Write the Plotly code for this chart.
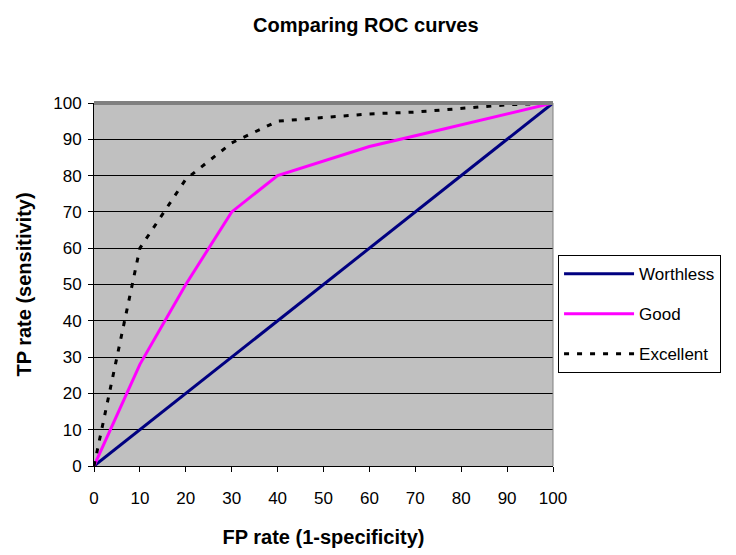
import plotly.graph_objects as go

fp = [0, 10, 20, 30, 40, 50, 60, 70, 80, 90, 100]
worthless = [0, 10, 20, 30, 40, 50, 60, 70, 80, 90, 100]
good = [0, 28, 50, 70, 80, 84, 88, 91, 94, 97, 100]
excellent = [0, 60, 79, 89, 95, 96, 97, 97.5, 98.5, 99.5, 100]
ticks = list(range(0, 101, 10))

FONT = "Liberation Sans, Arial, sans-serif"

fig = go.Figure()
fig.add_trace(go.Scatter(x=fp, y=worthless, mode="lines", name="Worthless",
                         legendgroup="w",
                         line=dict(color="#000080", width=3)))
fig.add_trace(go.Scatter(x=fp, y=good, mode="lines", name="Good",
                         legendgroup="g",
                         line=dict(color="#FF00FF", width=3)))
fig.add_trace(go.Scatter(x=fp, y=excellent, mode="lines", name="Excellent",
                         legendgroup="e",
                         line=dict(color="#000000", width=3, dash="5px,8px")))

fig.update_layout(
    width=736, height=555,
    margin=dict(l=94, r=183, t=103, b=89),
    paper_bgcolor="white", plot_bgcolor="#C0C0C0",
    font=dict(family=FONT, size=17, color="black"),
    title=dict(text="<b>Comparing ROC curves</b>", x=0.497, xanchor="center",
               y=1 - 25 / 555, yanchor="middle", font=dict(size=20)),
    xaxis=dict(range=[0, 100], tickvals=ticks, showgrid=False, zeroline=False,
               showline=True, linecolor="black", linewidth=1,
               ticks="outside", ticklen=5, tickcolor="black",
               ticklabelstandoff=12,
               title=dict(text="<b>FP rate (1-specificity)</b>", standoff=22)),
    yaxis=dict(range=[0, 100], tickvals=ticks, showgrid=True, gridcolor="black",
               gridwidth=1, zeroline=False, showline=True, linecolor="black",
               linewidth=1, ticks="outside", ticklen=5, tickcolor="black",
               ticklabelstandoff=3,
               title=dict(text="<b>TP rate (sensitivity)</b>", standoff=16)),
    legend=dict(x=1.011, xanchor="left", y=0.581, yanchor="top",
                bordercolor="black", borderwidth=1, bgcolor="white",
                font=dict(size=17), itemwidth=70, tracegroupgap=15,
                traceorder="grouped"),
    showlegend=True,
)
fig.add_shape(type="line", xref="paper", yref="paper", x0=0, x1=1, y0=1, y1=1,
              line=dict(color="#808080", width=4))
fig.add_shape(type="line", xref="paper", yref="paper", x0=1, x1=1, y0=0, y1=1,
              line=dict(color="#808080", width=1))

fig.write_html("out.html")
